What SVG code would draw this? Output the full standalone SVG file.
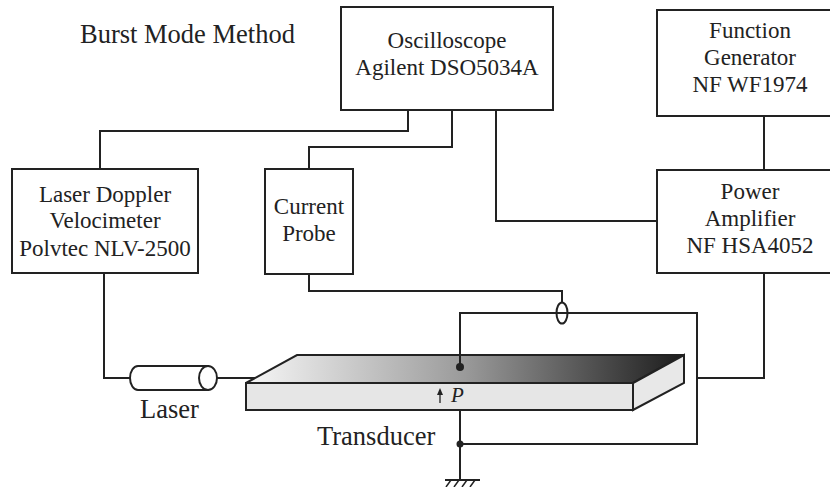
<svg xmlns="http://www.w3.org/2000/svg" width="830" height="487" viewBox="0 0 830 487">
  <style>
    .box { fill: #ffffff; stroke: #222222; stroke-width: 2; }
    .wire { fill: none; stroke: #222222; stroke-width: 2; }
    .lbl { font-family: "Liberation Serif", "Times New Roman", serif; font-size: 23px; fill: #222222; text-anchor: middle; }
    .big { font-family: "Liberation Serif", "Times New Roman", serif; font-size: 26.5px; fill: #222222; }
    .face { stroke: #222222; stroke-width: 2; stroke-linejoin: miter; }
  </style>
  <defs>
    <linearGradient id="topShade" x1="246" y1="0" x2="684" y2="0" gradientUnits="userSpaceOnUse">
      <stop offset="0" stop-color="#f7f7f7"/>
      <stop offset="0.5" stop-color="#9a9a9a"/>
      <stop offset="1" stop-color="#1c1c1c"/>
    </linearGradient>
  </defs>
  <rect width="830" height="487" fill="#ffffff"/>

  <text class="big" x="80" y="43">Burst Mode Method</text>

  <!-- connectors -->
  <g id="connectors">
    <polyline class="wire" points="408,110 408,131 100,131 100,169"/>
    <polyline class="wire" points="452,110 452,147 309,147 309,169"/>
    <polyline class="wire" points="496,110 496,221 657,221"/>
    <polyline class="wire" points="764,116 764,170"/>
    <polyline class="wire" points="104,273 104,378 132,378"/>
    <line class="wire" x1="217" y1="378" x2="256" y2="378"/>
    <polyline class="wire" points="309,274 309,291 562,291 562,302"/>
    <polyline class="wire" points="460,367 460,313 697,313 697,444 460,444"/>
    <polyline class="wire" points="697,378 764,378 764,273"/>
    <line class="wire" x1="460" y1="410" x2="460" y2="480"/>
    <circle cx="460" cy="367" r="4" fill="#222222"/>
    <circle cx="460" cy="444" r="3.5" fill="#222222"/>
    <!-- ground -->
    <line class="wire" x1="445" y1="480" x2="480" y2="480"/>
    <g stroke="#222222" stroke-width="1.5">
      <line x1="451" y1="480" x2="446" y2="487"/>
      <line x1="459" y1="480" x2="454" y2="487"/>
      <line x1="467" y1="480" x2="462" y2="487"/>
      <line x1="475" y1="480" x2="470" y2="487"/>
    </g>
    <!-- current probe ring -->
    <ellipse cx="562" cy="313" rx="5.5" ry="10.5" fill="none" stroke="#222222" stroke-width="2"/>
  </g>

  <g id="oscilloscope">
    <rect class="box" x="341" y="7" width="212" height="103"/>
    <text class="lbl" x="447" y="48">Oscilloscope</text>
    <text class="lbl" x="447" y="75">Agilent DSO5034A</text>
  </g>

  <g id="function-generator">
    <rect class="box" x="657" y="10" width="190" height="106"/>
    <text class="lbl" x="750" y="38">Function</text>
    <text class="lbl" x="750" y="65">Generator</text>
    <text class="lbl" x="750" y="92">NF WF1974</text>
  </g>

  <g id="power-amplifier">
    <rect class="box" x="657" y="170" width="190" height="103"/>
    <text class="lbl" x="750" y="199">Power</text>
    <text class="lbl" x="750" y="226">Amplifier</text>
    <text class="lbl" x="750" y="253">NF HSA4052</text>
  </g>

  <g id="ldv">
    <rect class="box" x="12" y="169" width="186" height="104"/>
    <text class="lbl" x="105" y="202">Laser Doppler</text>
    <text class="lbl" x="105" y="228">Velocimeter</text>
    <text class="lbl" x="105" y="256">Polvtec NLV-2500</text>
  </g>

  <g id="current-probe">
    <rect class="box" x="265" y="169" width="88" height="105"/>
    <text class="lbl" x="309" y="214">Current</text>
    <text class="lbl" x="309" y="241">Probe</text>
  </g>

  <g id="laser">
    <path d="M138,366 L208,366 L208,390 L138,390 A8,12 0 0 1 138,366 Z" fill="#ffffff" stroke="#222222" stroke-width="2"/>
    <ellipse cx="208" cy="378" rx="9" ry="12" fill="#ffffff" stroke="#222222" stroke-width="2"/>
    <text class="big" x="140" y="418">Laser</text>
  </g>

  <g id="transducer">
    <polygon class="face" points="246,383 297,355 684,355 633,383" fill="url(#topShade)"/>
    <polygon class="face" points="633,383 684,355 684,383 633,410" fill="#e8e8e8"/>
    <rect class="face" x="246" y="383" width="387" height="27" fill="#e6e6e6"/>
    <line class="wire" x1="460" y1="355" x2="460" y2="367"/>
    <circle cx="460" cy="367" r="4" fill="#222222"/>
    <line x1="440" y1="403" x2="440" y2="393" stroke="#222222" stroke-width="1.3"/>
    <polygon points="440,388 437,395 443,395" fill="#222222"/>
    <text x="451" y="402" font-family="Liberation Serif, serif" font-style="italic" font-size="21" fill="#222222">P</text>
    <text class="big" x="317" y="445">Transducer</text>
  </g>
</svg>
